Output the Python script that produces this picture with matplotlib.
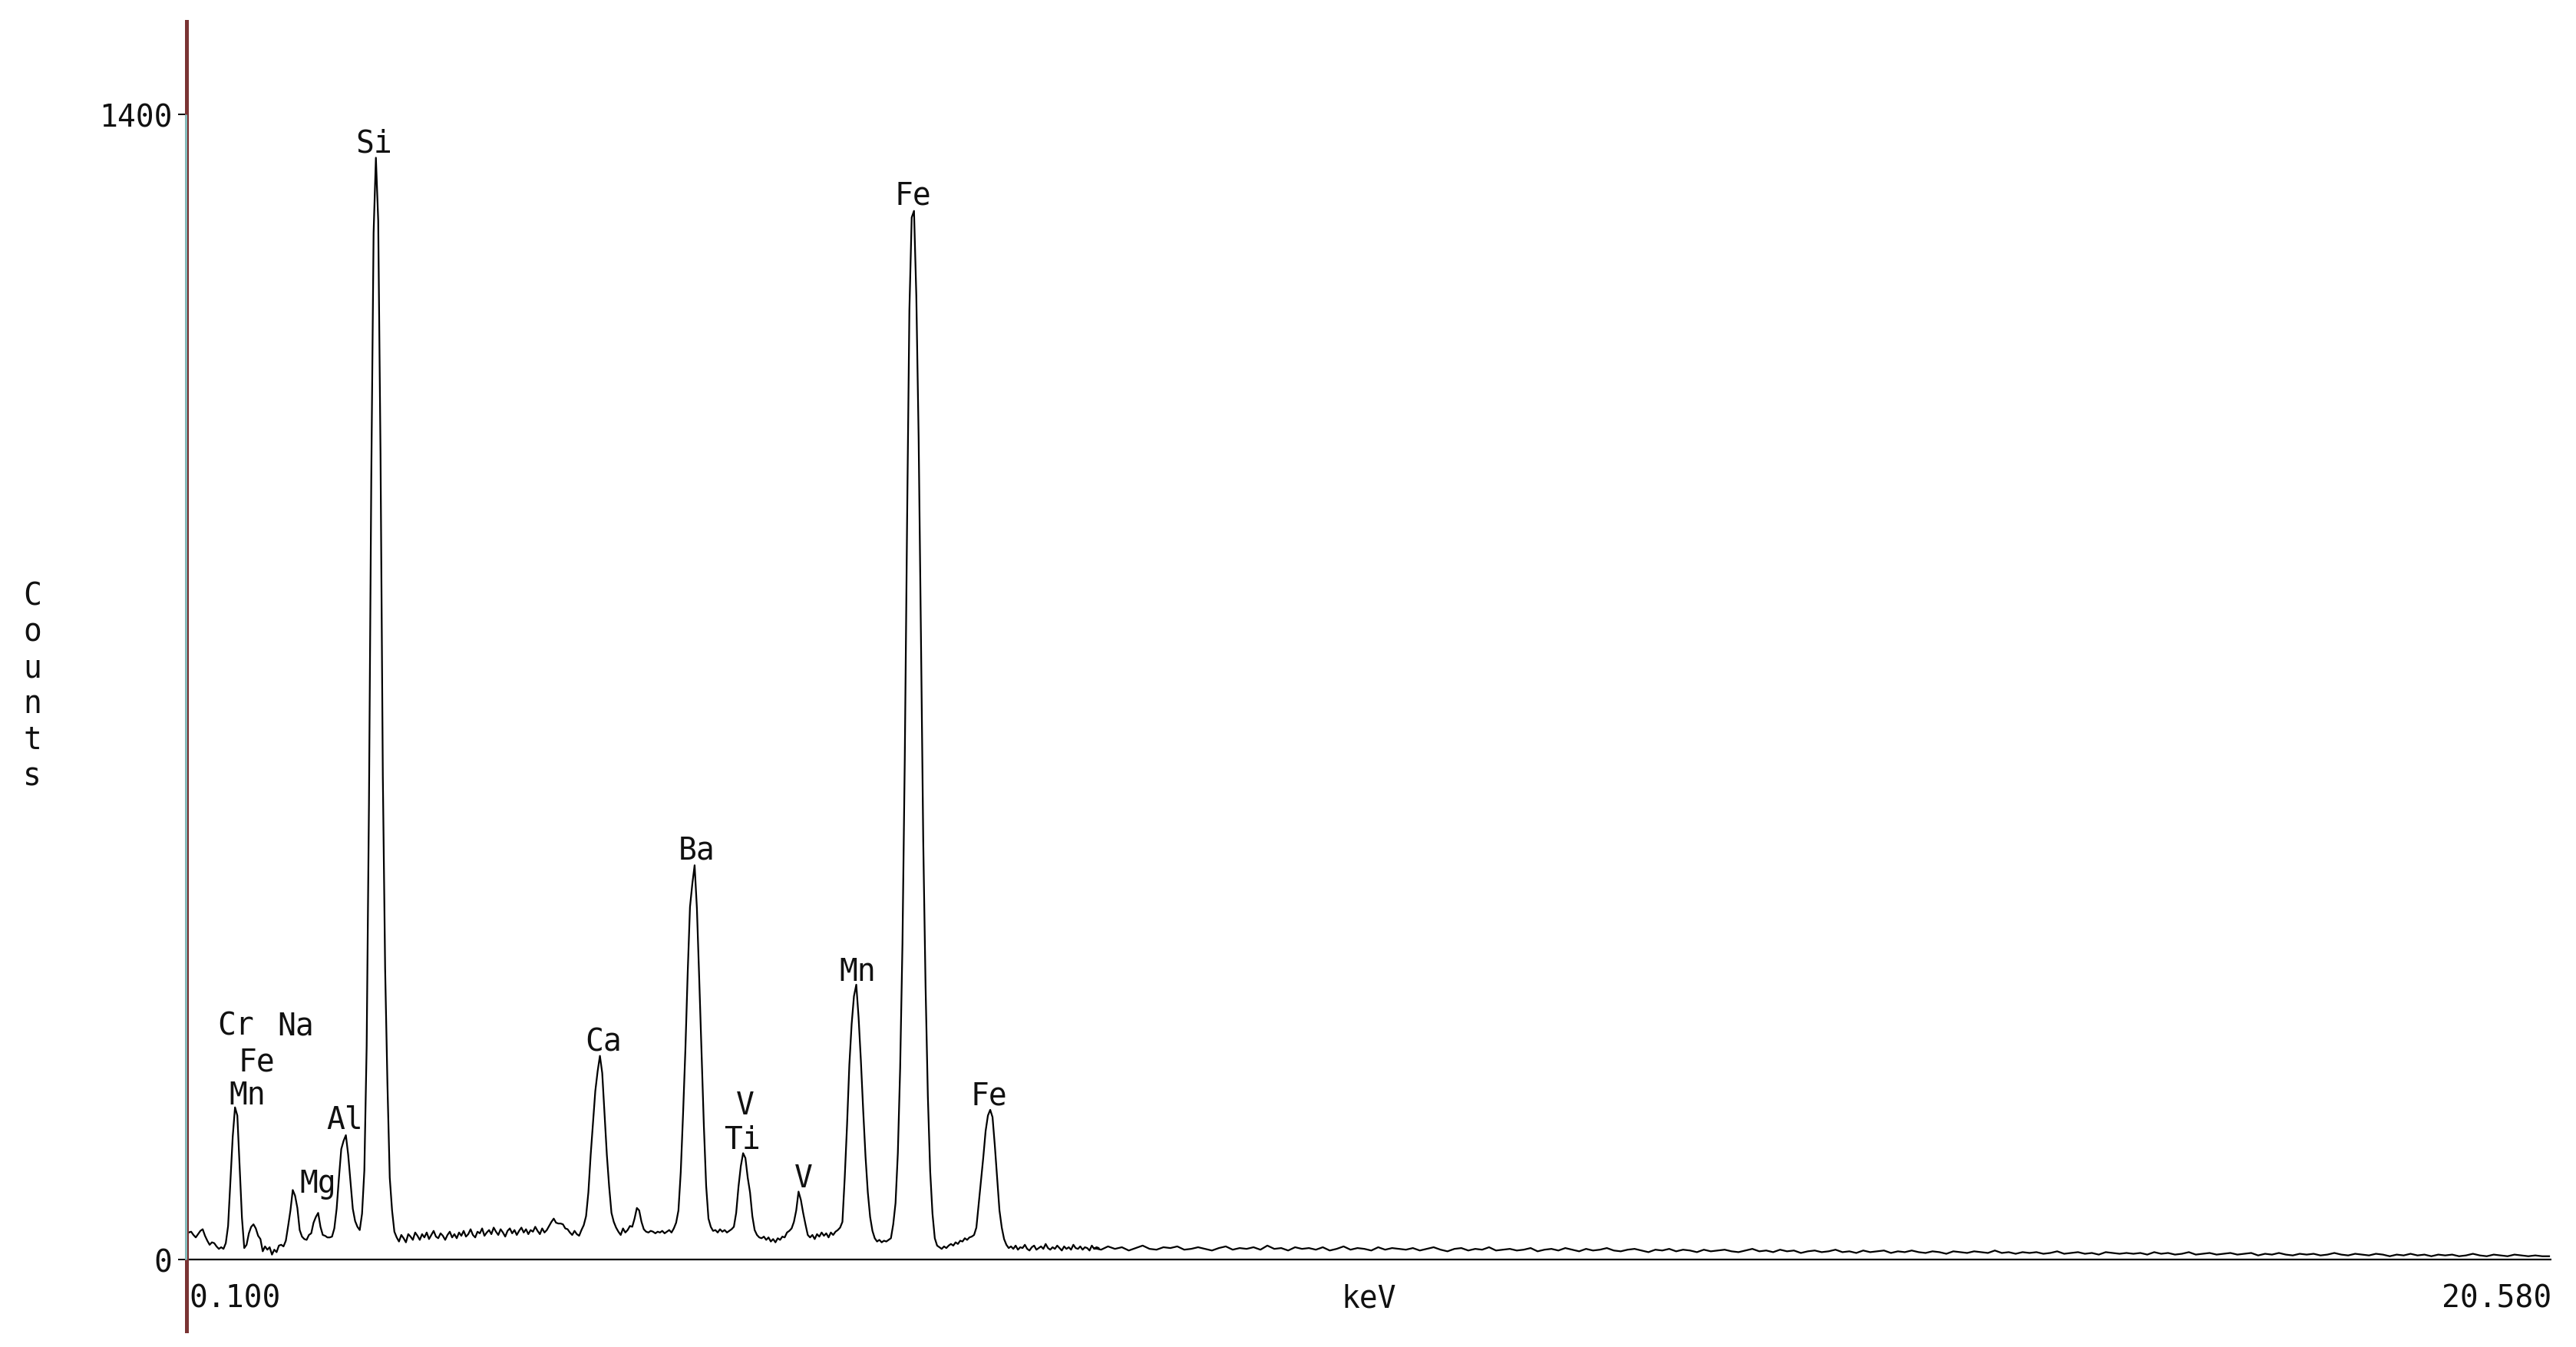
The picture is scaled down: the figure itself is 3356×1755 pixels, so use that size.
import numpy as np
import matplotlib
matplotlib.use("Agg")
import matplotlib.pyplot as plt
import matplotlib.transforms as mtransforms

# ---------------- data ----------------
# channel calibration of the spectrum (keV)
e_start = 0.10
ch_width = 0.02
tail_start = 7.96
tail_step = 0.06

# counts per channel, 0.10 - 2.08 keV
counts_a = [37, 33, 34, 30, 27, 31, 35, 37, 29, 23,
            18, 21, 20, 16, 13, 15, 13, 20, 41, 96,
            150, 186, 176, 113, 51, 14, 18, 32, 40, 43,
            38, 29, 25, 10, 16, 12, 15, 6, 12, 9,
            17, 18, 16, 23, 41, 60, 85, 78, 63, 36,
            28, 25, 24, 30, 32, 45, 52, 57, 40, 30,
            29, 27, 27, 28, 38, 62, 100, 135, 145, 152,
            128, 95, 62, 47, 40, 36, 56, 109, 261, 557,
            955, 1255, 1347, 1270, 985, 591, 355, 214, 100, 60,
            34, 27, 22, 30, 26, 21, 31, 28, 24, 33]
# 2.10 - 4.08 keV
counts_b = [29, 24, 31, 27, 33, 25, 30, 35, 28, 26,
            32, 29, 24, 30, 34, 27, 31, 26, 33, 29,
            35, 28, 31, 37, 30, 27, 34, 32, 38, 29,
            33, 36, 31, 39, 34, 30, 37, 33, 28, 35,
            38, 32, 36, 30, 35, 39, 33, 37, 31, 36,
            34, 40, 35, 31, 38, 33, 36, 41, 46, 50,
            45, 44, 44, 43, 38, 37, 33, 30, 35, 31,
            29, 36, 42, 53, 82, 128, 167, 206, 230, 249,
            228, 178, 128, 89, 57, 46, 39, 34, 30, 38,
            33, 36, 41, 40, 50, 63, 60, 46, 37, 34]
# 4.10 - 6.08 keV
counts_c = [33, 35, 34, 32, 34, 33, 35, 32, 34, 36,
            33, 38, 45, 60, 107, 178, 256, 350, 431, 459,
            482, 429, 343, 253, 164, 90, 50, 40, 35, 36,
            33, 37, 34, 36, 33, 35, 37, 40, 57, 89,
            114, 130, 124, 100, 82, 53, 36, 30, 27, 26,
            28, 24, 27, 22, 25, 21, 26, 24, 28, 27,
            33, 35, 38, 46, 60, 83, 73, 57, 43, 30,
            27, 30, 25, 31, 28, 33, 29, 32, 27, 33,
            30, 34, 36, 39, 46, 100, 164, 238, 288, 322,
            336, 296, 243, 182, 126, 82, 52, 35, 26, 22]
# 6.10 - 7.90 keV
counts_d = [24, 21, 23, 22, 24, 26, 43, 69, 130, 234,
            386, 611, 901, 1161, 1274, 1282, 1178, 1005, 763, 511,
            334, 199, 108, 56, 26, 17, 15, 13, 16, 14,
            17, 19, 17, 21, 19, 23, 22, 26, 24, 27,
            28, 30, 39, 68, 96, 125, 157, 176, 183, 174,
            139, 100, 60, 39, 25, 18, 14, 16, 13, 17,
            12, 15, 14, 18, 13, 11, 15, 17, 12, 14,
            16, 13, 19, 14, 12, 15, 13, 17, 14, 11,
            16, 13, 15, 12, 18, 14, 13, 16, 12, 15,
            14, 11, 17, 13, 15, 14]
# 7.96 - 20.56 keV (every 0.06 keV)
counts_tail = [14, 12, 16, 13, 15, 11, 14, 17, 13, 12, 15, 14, 16, 12, 13,
               15, 13, 11, 14, 16, 12, 14, 13, 15, 12, 17, 13, 14, 11, 15,
               13, 14, 12, 15, 11, 13, 16, 12, 14, 13, 11, 15, 12, 14, 13,
               12, 14, 11, 13, 15, 12, 10, 13, 14, 11, 13, 12, 15, 11, 12,
               13, 11, 12, 14, 10, 12, 13, 11, 14, 12, 10, 13, 11, 12, 14,
               11, 10, 12, 13, 11, 9, 12, 11, 13, 10, 12, 11, 9, 12, 10,
               11, 12, 10, 9, 11, 13, 10, 11, 9, 12, 10, 11, 8, 10, 11,
               9, 10, 12, 9, 10, 8, 11, 9, 10, 11, 8, 10, 9, 11, 9,
               8, 10, 9, 7, 10, 9, 8, 10, 9, 8, 11, 8, 9, 7, 9,
               8, 9, 7, 8, 10, 7, 8, 9, 7, 8, 6, 9, 8, 7, 8,
               7, 8, 6, 9, 7, 8, 6, 7, 9, 6, 7, 8, 6, 7, 8,
               6, 7, 8, 5, 7, 6, 8, 6, 5, 7, 6, 7, 5, 6, 8,
               6, 5, 7, 6, 5, 7, 6, 4, 6, 5, 7, 5, 6, 4, 6,
               5, 6, 4, 5, 7, 5, 4, 6, 5, 4, 6, 5, 4, 5, 4,
               4]

# peak labels: text, energy (keV), counts at label centre
label_text = ["Si", "Fe", "Ba", "Mn", "Ca", "Fe", "V", "Ti", "V",
              "Al", "Mg", "Mn", "Fe", "Cr", "Na"]
label_energy = [1.72, 6.39, 4.52, 5.91, 3.71, 7.05, 4.94, 4.91, 5.44,
                1.47, 1.24, 0.625, 0.705, 0.525, 1.043]
label_count = [1369, 1305, 505, 356, 270, 204, 193, 150, 103,
               175, 97, 205, 246, 290, 290]

y_ticks = [0, 1400]
y_tick_labels = ["0", "1400"]
x_min, x_max = 0.100, 20.580
x_min_label, x_max_label = "0.100", "20.580"
x_title = "keV"
y_title = "Counts"

# ---------------- build series ----------------
counts_main = np.array(counts_a + counts_b + counts_c + counts_d, dtype=float)
energy_main = e_start + ch_width * np.arange(len(counts_main))
energy_tail = tail_start + tail_step * np.arange(len(counts_tail))
energy = np.concatenate([energy_main, energy_tail])
counts = np.concatenate([counts_main, np.array(counts_tail, dtype=float)])

# ---------------- figure ----------------
plt.rcParams['font.family'] = ['DejaVu Sans Mono', 'DejaVu Sans']
FS = 28.5
W, H = 3356, 1756
fig = plt.figure(figsize=(W / 100, H / 100), dpi=100)
fig.patch.set_facecolor('white')

px_per_count = 1.0657
y_zero_px = 1642
ax_top_px, ax_bot_px = 29, 1735
ax_left_px, ax_right_px = 243, 3324
ymax = (y_zero_px - ax_top_px) / px_per_count
ymin = -(ax_bot_px - y_zero_px) / px_per_count

ax = fig.add_axes([ax_left_px / W, (H - ax_bot_px) / H,
                   (ax_right_px - ax_left_px) / W, (ax_bot_px - ax_top_px) / H])
ax.set_xlim(x_min, x_max)
ax.set_ylim(ymin, ymax)
ax.set_facecolor('white')

maroon = '#7a3434'
cyan = '#86d2d2'
for s in ['top', 'right', 'bottom']:
    ax.spines[s].set_visible(False)
ax.spines['left'].set_color(maroon)
ax.spines['left'].set_linewidth(3.6)
ax.spines['left'].set_zorder(4)

# cyan marker segment along the y axis between 0 and 1400
off = mtransforms.offset_copy(ax.transData, fig=fig, x=-1.3, y=0, units='dots')
ax.plot([x_min, x_min], [0, 1400], color=cyan, lw=1.8, transform=off,
        clip_on=False, zorder=5, solid_capstyle='butt')

# x axis line at zero
ax.plot([x_min, x_max], [0, 0], color='black', lw=1.6, zorder=3,
        clip_on=False, solid_capstyle='butt')

# spectrum
ax.plot(energy, counts, color='black', lw=1.6, zorder=3)

# ticks
ax.set_xticks([])
ax.set_yticks(y_ticks)
ax.set_yticklabels(y_tick_labels)
ax.tick_params(axis='y', length=8, width=1.4, color='black', pad=5.5,
               labelsize=FS, labelcolor='#111111')

# x tick texts and title
ax.text(x_min + 0.02, -47, x_min_label, ha='left', va='center', fontsize=FS, color='#111111')
ax.text(x_max, -47, x_max_label, ha='right', va='center', fontsize=FS, color='#111111')
ax.text((x_min + x_max) / 2, -47, x_title, ha='center', va='center', fontsize=FS, color='#111111')

# y title: stacked letters
fig.text(42 / W, 1 - 895 / H, "\n".join(y_title), ha='center', va='center',
         fontsize=FS, linespacing=1.22, color='#111111')

# peak labels
for t, e, c in zip(label_text, label_energy, label_count):
    ax.text(e, c - 4, t, ha='center', va='center', fontsize=FS, color='#111111', zorder=6)

fig.savefig('out.png', dpi=100, facecolor='white')
